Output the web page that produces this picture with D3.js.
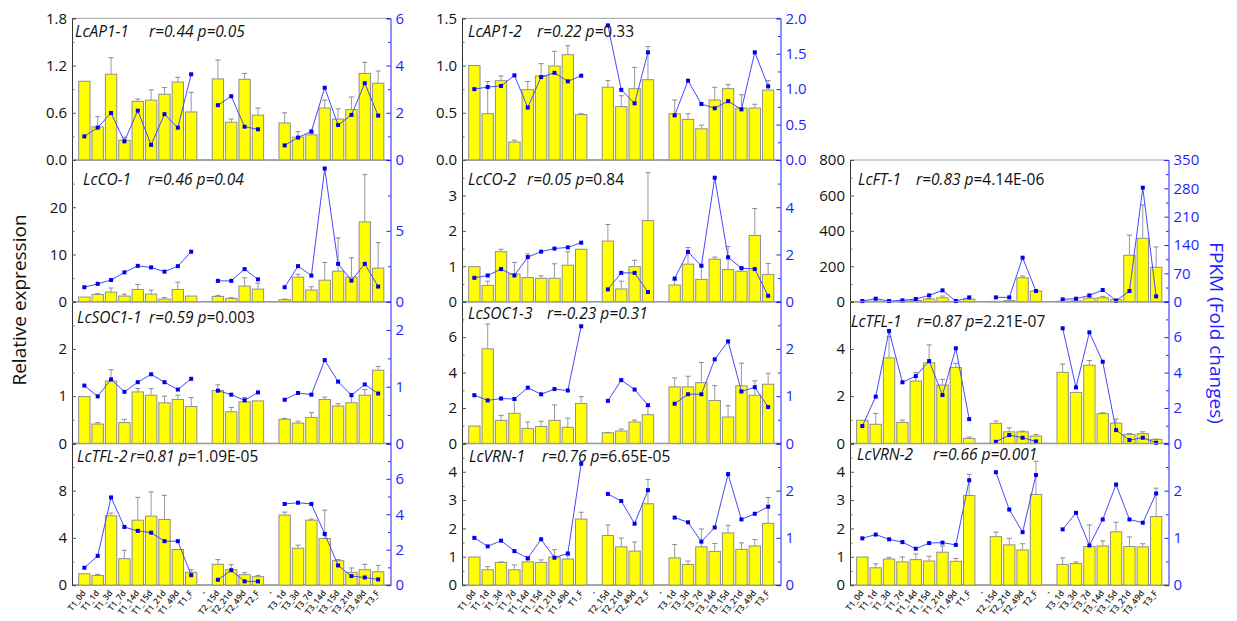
<!DOCTYPE html>
<html>
<head>
<meta charset="utf-8">
<title>Flowering genes qRT-PCR vs FPKM</title>
<script src="https://d3js.org/d3.v7.min.js"></script>
<style>
  body { margin: 0; background: #fff; }
  text { font-family: "Open Sans", sans-serif; }
</style>
</head>
<body>
<script>
// x categories (null-valued slots are the gaps between treatments)
var categories = ["T1_0d","T1_1d","T1_3d","T1_7d","T1_14d","T1_15d","T1_21d","T1_49d","T1_F","-",
                  "T2_15d","T2_21d","T2_49d","T2_F","-",
                  "T3_1d","T3_3d","T3_7d","T3_14d","T3_15d","T3_21d","T3_49d","T3_F"];

// relative expression (bars), sd (error bars), FPKM fold changes (line)
var ap11_expr = [1.00,0.42,1.09,0.25,0.745,0.76,0.835,0.99,0.61,null,1.03,0.48,1.025,0.57,null,0.47,0.29,0.32,0.66,0.52,0.64,1.10,0.975];
var ap11_sd   = [0,0.13,0.21,0.04,0.03,0.13,0.085,0.06,0.25,null,0.24,0.04,0.075,0.09,null,0.13,0.07,0.02,0.10,0.13,0.16,0.14,0.155];
var ap11_fpkm = [1.0,1.37,1.99,0.79,2.09,0.64,1.94,1.37,3.63,null,2.32,2.70,1.41,1.30,null,0.62,0.95,1.21,3.06,1.48,1.91,3.25,1.88];

var ap12_expr = [1.00,0.49,0.84,0.19,0.745,0.89,0.995,1.115,0.48,null,0.77,0.565,0.755,0.85,null,0.49,0.43,0.33,0.635,0.755,0.55,0.55,0.74];
var ap12_sd   = [0,0.34,0.05,0.02,0.085,0.13,0.155,0.095,0.01,null,0.07,0.115,0.225,0.35,null,0.145,0.06,0.04,0.135,0.045,0.14,0.04,0.10];
var ap12_fpkm = [1.00,1.03,1.045,1.195,0.74,1.17,1.23,1.11,1.19,null,1.90,0.99,0.80,1.52,null,0.63,1.12,0.79,0.73,0.83,0.715,1.52,1.04];

var co1_expr = [0.98,1.54,2.03,1.19,2.6,1.6,0.56,2.6,1.19,null,1.12,0.70,3.3,2.67,null,0.42,5.2,2.46,4.56,6.46,5.2,16.9,7.1];
var co1_sd   = [0,0.16,0.87,0.41,1.05,0.86,0.34,1.54,0,null,0.21,0.14,1.75,1.26,null,0.14,0.6,0.7,3.74,7.04,4.1,10.0,5.4];
var co1_fpkm = [1.02,1.26,1.53,2.07,2.53,2.42,2.12,2.51,3.53,null,1.47,1.47,2.30,1.58,null,1.02,2.51,1.84,9.4,2.67,1.49,2.67,1.07];

var co2_expr = [0.99,0.46,1.41,0.78,0.68,0.66,0.66,1.03,1.48,null,1.71,0.36,0.99,2.29,null,0.47,1.06,0.63,1.20,0.91,0.86,1.87,0.77];
var co2_sd   = [0,0.12,0.07,0.33,0.67,0.07,0.41,0.38,0,null,0.47,0.22,0.18,1.35,null,0.14,0.47,0.38,0.06,0.65,0.11,0.76,0.31];
var co2_fpkm = [1.01,1.11,1.38,1.11,1.89,2.12,2.25,2.30,2.50,null,0.52,1.22,1.22,0.41,null,0.98,2.11,1.52,5.25,1.88,1.42,1.38,0.25];

var ft1_expr = [1,3,1,5,7,15,22,2,14,null,2,6,135,60,null,3,4,20,22,11,262,358,194];
var ft1_sd   = [0,0,0,1,2,3,10,0,3,null,0,1,10,4,null,1,1,8,8,4,114,188,115];
var ft1_fpkm = [1.6,7.4,1.6,3.3,6.6,15.6,28,1.6,10.7,null,10.7,10.7,108.7,26.4,null,5.8,7.4,15.6,28.8,2.5,26.4,281.6,13.2];

var soc11_expr = [0.99,0.41,1.32,0.44,1.09,1.02,0.86,0.93,0.78,null,1.12,0.67,0.88,0.90,null,0.51,0.43,0.55,0.93,0.79,0.86,1.02,1.55];
var soc11_sd   = [0,0.03,0.24,0.07,0.07,0.14,0.14,0.09,0.19,null,0.12,0.09,0.09,0,null,0.02,0.04,0.10,0.05,0.05,0.20,0.12,0.08];
var soc11_fpkm = [1.02,0.83,1.13,0.91,1.08,1.22,1.08,0.95,1.14,null,0.93,0.86,0.76,0.90,null,0.77,0.89,0.86,1.47,1.09,0.85,1.04,0.88];

var soc13_expr = [0.98,5.34,1.30,1.70,0.85,0.96,1.30,0.91,2.25,null,0.60,0.70,1.21,1.62,null,3.19,3.19,3.43,2.42,1.49,3.25,2.72,3.34];
var soc13_sd   = [0,1.40,0.28,0.75,0.36,0.29,0.87,0.52,0.39,null,0.02,0.11,0.11,0.46,null,0.51,0.60,1.14,0.84,0.64,1.28,0.81,0.62];
var soc13_fpkm = [1.02,0.91,0.95,0.94,1.18,1.04,1.15,1.12,2.48,null,0.90,1.34,1.14,0.81,null,0.84,1.04,1.04,1.78,2.16,1.10,1.19,0.77];

var tfl1_expr = [0.98,0.81,3.62,0.89,2.64,3.41,2.47,3.21,0.21,null,0.85,0.49,0.49,0.31,null,3.01,2.16,3.31,1.26,0.86,0.38,0.41,0.17];
var tfl1_sd   = [0,0.46,0.9,0.10,0.36,0.76,0.24,0.18,0.06,null,0.10,0.17,0.03,0.07,null,0.35,0,0.20,0.04,0.17,0.04,0.08,0.01];
var tfl1_fpkm = [0.98,2.64,6.35,3.45,3.80,4.65,2.73,5.37,1.37,null,0.09,0.47,0.32,0.11,null,6.50,3.16,6.27,4.61,0.75,0.19,0.32,0.04];

var tfl2_expr = [0.96,0.82,5.87,2.24,5.50,5.84,5.56,3.01,1.08,null,1.76,1.30,0.88,0.71,null,5.93,3.12,5.50,3.94,2.07,1.08,1.30,1.13];
var tfl2_sd   = [0,0.09,0.23,0.71,1.93,2.05,2.04,0,0.22,null,0.40,0.43,0.17,0.11,null,0.25,0.26,0.09,2.41,0.09,0.37,0.46,0.54];
var tfl2_fpkm = [0.98,1.65,4.95,3.28,3.06,2.96,2.48,2.48,0.56,null,0.30,0.84,0.21,0.21,null,4.58,4.65,4.58,2.89,1.11,0.51,0.43,0.32];

var vrn1_expr = [0.99,0.54,0.80,0.54,0.82,0.80,0.99,0.92,2.33,null,1.75,1.35,1.20,2.87,null,0.96,0.73,1.35,1.19,1.84,1.26,1.38,2.18];
var vrn1_sd   = [0,0.11,0.02,0.17,0.07,0.09,0.26,0.14,0.24,null,0.37,0.31,0.32,0.86,null,0.47,0.12,0.63,0.28,0.27,0.23,0.23,0.91];
var vrn1_fpkm = [1.00,0.82,0.94,0.72,0.57,0.97,0.58,0.67,2.57,null,1.93,1.78,1.30,2.01,null,1.43,1.33,0.92,1.22,2.35,1.39,1.51,1.66];

var vrn2_expr = [0.99,0.61,0.92,0.82,0.90,0.85,1.16,0.84,3.16,null,1.71,1.42,1.24,3.20,null,0.73,0.76,1.36,1.38,1.88,1.36,1.35,2.42];
var vrn2_sd   = [0,0.14,0.06,0.17,0.20,0.17,0.22,0.10,0.75,null,0.16,0.23,0.22,1.17,null,0.23,0.06,0.76,0.18,0.34,0.34,0.11,1.00];
var vrn2_fpkm = [0.99,1.07,0.97,0.91,0.77,0.89,0.90,0.85,2.22,null,2.39,1.60,1.12,2.33,null,1.18,1.53,0.84,1.39,2.13,1.39,1.32,1.94];

// panel setup: gene, stats (italic part, upright part), axis ticks
var panels = [
  {gene:"LcAP1-1", si:"r=0.44 p=0.05", su:"", col:0, row:0, expr:ap11_expr, sd:ap11_sd, fpkm:ap11_fpkm,
   lt:[0,0.6,1.2,1.8], lm:0.3, lf:".1f", rt:[0,2,4,6], rm:1, rf:"d", gx:3, sx:77, ty:19},
  {gene:"LcAP1-2", si:"r=0.22 p=", su:"0.33", col:1, row:0, expr:ap12_expr, sd:ap12_sd, fpkm:ap12_fpkm,
   lt:[0,0.5,1.0,1.5], lm:0.25, lf:".1f", rt:[0,0.5,1.0,1.5,2.0], rm:0.25, rf:".1f", gx:6, sx:75, ty:19},
  {gene:"LcCO-1", si:"r=0.46 p=0.04", su:"", col:0, row:1, expr:co1_expr, sd:co1_sd, fpkm:co1_fpkm,
   lt:[0,10,20,30], lm:5, lf:"d", rt:[0,5,10], rm:2.5, rf:"d", gx:11, sx:76, ty:25},
  {gene:"LcCO-2", si:"r=0.05 p=", su:"0.84", col:1, row:1, expr:co2_expr, sd:co2_sd, fpkm:co2_fpkm,
   lt:[0,1,2,3,4], lm:0.5, lf:"d", rt:[0,2,4,6], rm:1, rf:"d", gx:6, sx:65, ty:25},
  {gene:"LcFT-1", si:"r=0.83 p", su:"=4.14E-06", col:2, row:1, expr:ft1_expr, sd:ft1_sd, fpkm:ft1_fpkm,
   lt:[0,200,400,600,800], lm:100, lf:"d", rt:[0,70,140,210,280,350], rm:35, rf:"d", gx:8, sx:66, ty:25, showTop:true},
  {gene:"LcSOC1-1", si:"r=0.59 p", su:"=0.003", col:0, row:2, expr:soc11_expr, sd:soc11_sd, fpkm:soc11_fpkm,
   lt:[0,1,2,3], lm:0.5, lf:"d", rt:[0,1,2,2.5], rm:0.5, rf:"d", gx:5, sx:77, ty:21},
  {gene:"LcSOC1-3", si:"r=-0.23 p=0.31", su:"", col:1, row:2, expr:soc13_expr, sd:soc13_sd, fpkm:soc13_fpkm,
   lt:[0,2,4,6,8], lm:1, lf:"d", rt:[0,1,2,3], rm:0.5, rf:"d", gx:6, sx:85, ty:17},
  {gene:"LcTFL-1", si:"r=0.87 p", su:"=2.21E-07", col:2, row:2, expr:tfl1_expr, sd:tfl1_sd, fpkm:tfl1_fpkm,
   lt:[0,2,4,6], lm:1, lf:"d", rt:[0,2,4,6,8], rm:1, rf:"d", gx:1, sx:67, ty:25},
  {gene:"LcTFL-2", si:"r=0.81 p", su:"=1.09E-05", col:0, row:3, expr:tfl2_expr, sd:tfl2_sd, fpkm:tfl2_fpkm,
   lt:[0,4,8,12], lm:2, lf:"d", rt:[0,2,4,6,8], rm:1, rf:"d", gx:5, sx:58, ty:19},
  {gene:"LcVRN-1", si:"r=0.76 p", su:"=6.65E-05", col:1, row:3, expr:vrn1_expr, sd:vrn1_sd, fpkm:vrn1_fpkm,
   lt:[0,1,2,3,4,5], lm:0.5, lf:"d", rt:[0,1,2,3], rm:0.5, rf:"d", gx:7, sx:80, ty:19},
  {gene:"LcVRN-2", si:"r=0.66 p=0.001", su:"", col:2, row:3, expr:vrn2_expr, sd:vrn2_sd, fpkm:vrn2_fpkm,
   lt:[0,1,2,3,4,5], lm:0.5, lf:"d", rt:[0,1,2,3], rm:0.5, rf:"d", gx:7, sx:83, ty:17}
];

var W = 1237, H = 621;
var colX = [72, 462, 850], colW = 318.5;
var rowY0 = 18.3, rowH = 141.7;
var blue = "#1f1fff";

var svg = d3.select("body").append("svg")
  .attr("width", W)
  .attr("height", H);

panels.forEach(function(p) {
  var x0 = colX[p.col], y0 = rowY0 + p.row * rowH, y1 = y0 + rowH, x1 = x0 + colW;
  var g = svg.append("g");

  var x = d3.scaleBand().domain(d3.range(categories.length))
    .range([x0, x1]).paddingInner(0.15).paddingOuter(0.5);
  var lMax = p.lt[p.lt.length - 1], rMax = p.rt[p.rt.length - 1];
  var yL = d3.scaleLinear().domain([0, lMax]).range([y1, y0]);
  var yR = d3.scaleLinear().domain([0, rMax]).range([y1, y0]);

  // frame top / bottom
  g.append("line").attr("x1", x0).attr("x2", x1).attr("y1", y0).attr("y2", y0)
    .attr("stroke", "#a0a0a0").attr("stroke-width", 1);
  g.append("line").attr("x1", x0).attr("x2", x1).attr("y1", y1).attr("y2", y1)
    .attr("stroke", "#8c8c8c").attr("stroke-width", 1.5);

  var idx = d3.range(categories.length).filter(function(i){ return p.expr[i] != null; });

  // bars
  g.selectAll("rect.bar").data(idx).enter().append("rect")
    .attr("class", "bar")
    .attr("x", function(i){ return x(i); })
    .attr("y", function(i){ return yL(p.expr[i]); })
    .attr("width", x.bandwidth())
    .attr("height", function(i){ return y1 - yL(p.expr[i]); })
    .attr("fill", "#ffff00")
    .attr("stroke", "#8f8f8f")
    .attr("stroke-width", 1);

  // error bars
  var cx = function(i){ return x(i) + x.bandwidth() / 2; };
  var errIdx = idx.filter(function(i){ return p.sd[i] > 0; });
  g.selectAll("line.err").data(errIdx).enter().append("line")
    .attr("x1", cx).attr("x2", cx)
    .attr("y1", function(i){ return yL(p.expr[i]); })
    .attr("y2", function(i){ return yL(p.expr[i] + p.sd[i]); })
    .attr("stroke", "#9a9a9a").attr("stroke-width", 1);
  g.selectAll("line.cap").data(errIdx).enter().append("line")
    .attr("x1", function(i){ return cx(i) - 2.5; })
    .attr("x2", function(i){ return cx(i) + 2.5; })
    .attr("y1", function(i){ return yL(p.expr[i] + p.sd[i]); })
    .attr("y2", function(i){ return yL(p.expr[i] + p.sd[i]); })
    .attr("stroke", "#8a8a8a").attr("stroke-width", 1);

  // FPKM line
  var line = d3.line()
    .defined(function(i){ return p.fpkm[i] != null; })
    .x(cx)
    .y(function(i){ return yR(p.fpkm[i]); });
  g.append("path").datum(d3.range(categories.length))
    .attr("d", line)
    .attr("fill", "none")
    .attr("stroke", "#4848ff")
    .attr("stroke-width", 1);
  g.selectAll("rect.pt").data(idx).enter().append("rect")
    .attr("x", function(i){ return cx(i) - 2; })
    .attr("y", function(i){ return yR(p.fpkm[i]) - 2; })
    .attr("width", 4).attr("height", 4)
    .attr("fill", "#0000ee");

  // left axis
  var topHidden = !(p.row === 0 || p.showTop);
  var lFmt = d3.format(p.lf);
  var axL = g.append("g").attr("transform", "translate(" + x0 + ",0)")
    .call(d3.axisLeft(yL).tickValues(p.lt).tickSize(-4).tickPadding(5)
      .tickFormat(function(d){ return (topHidden && d === lMax) ? "" : lFmt(d); }));
  axL.select(".domain").attr("stroke", "#333");
  axL.selectAll(".tick line").attr("stroke", "#555");
  axL.selectAll("text").attr("font-size", 15).attr("fill", "#111");
  var minL = d3.range(p.lm, lMax, p.lm).filter(function(v){
    return p.lt.every(function(t){ return Math.abs(t - v) > 1e-9; }); });
  g.append("g").attr("transform", "translate(" + x0 + ",0)")
    .call(d3.axisLeft(yL).tickValues(minL).tickSize(-2.5).tickFormat(""))
    .call(function(s){ s.select(".domain").remove(); s.selectAll("line").attr("stroke", "#666"); });

  // right axis
  var rFmt = d3.format(p.rf);
  var rLabels = p.rt.filter(function(d){ return d === 0 || d % 1 === 0 || p.rf !== "d"; });
  var axR = g.append("g").attr("transform", "translate(" + x1 + ",0)")
    .call(d3.axisRight(yR).tickValues(rLabels).tickSize(-4).tickPadding(5)
      .tickFormat(function(d){ return (topHidden && d === rMax) ? "" : rFmt(d); }));
  axR.select(".domain").attr("stroke", blue);
  axR.selectAll(".tick line").attr("stroke", blue);
  axR.selectAll("text").attr("font-size", 15).attr("fill", blue);
  var minR = d3.range(p.rm, rMax, p.rm).filter(function(v){
    return rLabels.every(function(t){ return Math.abs(t - v) > 1e-9; }); });
  g.append("g").attr("transform", "translate(" + x1 + ",0)")
    .call(d3.axisRight(yR).tickValues(minR).tickSize(-2.5).tickFormat(""))
    .call(function(s){ s.select(".domain").remove(); s.selectAll("line").attr("stroke", blue); });

  // panel title
  var t = g.append("text").attr("y", y0 + p.ty).attr("font-size", 15.5).attr("fill", "#111");
  t.append("tspan").attr("x", x0 + p.gx).attr("font-style", "italic").text(p.gene);
  t.append("tspan").attr("x", x0 + p.sx).attr("font-style", "italic").text(p.si);
  if (p.su) t.append("tspan").text(p.su);

  // category labels on bottom row
  if (p.row === 3) {
    g.selectAll("text.cat").data(d3.range(categories.length)).enter().append("text")
      .attr("transform", function(i){ return "translate(" + (cx(i) + 2) + "," + (y1 + 8) + ") rotate(-52)"; })
      .attr("text-anchor", "end")
      .attr("font-size", 8.5)
      .attr("font-weight", 600)
      .attr("fill", "#222")
      .text(function(i){ return categories[i]; });
  }
});

// axis titles
svg.append("text")
  .attr("transform", "translate(26,300) rotate(-90)")
  .attr("text-anchor", "middle")
  .attr("font-size", 19)
  .attr("fill", "#111")
  .text("Relative expression");

svg.append("text")
  .attr("transform", "translate(1210,333) rotate(90)")
  .attr("text-anchor", "middle")
  .attr("font-size", 19)
  .attr("fill", blue)
  .text("FPKM (Fold changes)");
</script>
</body>
</html>
